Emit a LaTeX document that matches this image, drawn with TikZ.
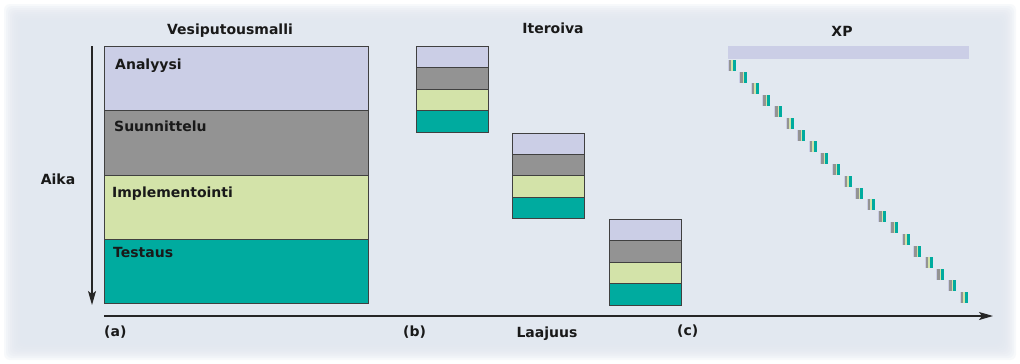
\documentclass[tikz,border=0pt]{standalone}
\usepackage{fontspec}
\setmainfont{DejaVu Sans}
\usetikzlibrary{arrows.meta}
\definecolor{bgc}{HTML}{E2E8F0}
\definecolor{lav}{HTML}{CBCEE6}
\definecolor{gry}{HTML}{939393}
\definecolor{lgr}{HTML}{D3E3A9}
\definecolor{tea}{HTML}{00AB9F}
\definecolor{edge}{HTML}{404040}
\tikzset{
  lbl/.style={inner sep=0pt, font=\fontsize{14}{16}\selectfont\bfseries, text=black!90},
  band/.style={draw=edge, line width=0.9pt, inner sep=0pt, anchor=north west},
  axisarrow/.style={draw=black!85, line width=1.2pt, -{Stealth[length=14pt,width=8pt,inset=3pt]}},
}
\begin{document}
\begin{tikzpicture}[x=1pt,y=-1pt]
\useasboundingbox (0,0) rectangle (1020,364);
% background
\fill[white] (0,0) rectangle (1020,364);
\foreach \i in {1,...,10} {
  \fill[bgc, opacity=0.25, rounded corners=6pt] (2*\i+2, 2*\i+2) rectangle (1018-2*\i, 362-2*\i);
}
% titles
\node[lbl, anchor=base] (t1) at (230,34) {Vesiputousmalli};
\node[lbl, anchor=base] (t2) at (553,33) {Iteroiva};
\node[lbl, anchor=base] (t3) at (842,36) {XP};
% waterfall
\node[band, fill=lav, minimum width=264pt, minimum height=64.25pt] (wa) at (104,46) {};
\node[band, fill=gry, minimum width=264pt, minimum height=64.25pt] (ws) at (104,110.25) {};
\node[band, fill=lgr, minimum width=264pt, minimum height=64.25pt] (wi) at (104,174.5) {};
\node[band, fill=tea, minimum width=264pt, minimum height=64.25pt] (wt) at (104,238.75) {};
\node[lbl, anchor=base west] (la) at (115,69) {Analyysi};
\node[lbl, anchor=base west] (ls) at (114,131) {Suunnittelu};
\node[lbl, anchor=base west] (li) at (112,197) {Implementointi};
\node[lbl, anchor=base west] (lt) at (113,257) {Testaus};
% time axis
\node[lbl, anchor=base] (aika) at (58,184) {Aika};
\coordinate (ta) at (92,46);
\coordinate (tb) at (92,305);
\draw[axisarrow] (ta) -- (tb);
% iterative boxes
\foreach \n/\x/\y in {1/416/46, 2/512/132.5, 3/608.5/219} {
  \node[band, fill=lav, minimum width=72pt, minimum height=21.4pt] (i\n a) at (\x,\y) {};
  \node[band, fill=gry, minimum width=72pt, minimum height=21.4pt] (i\n b) at (\x,\y+21.4) {};
  \node[band, fill=lgr, minimum width=72pt, minimum height=21.4pt] (i\n c) at (\x,\y+42.8) {};
  \node[band, fill=tea, minimum width=72pt, minimum height=21.4pt] (i\n d) at (\x,\y+64.2) {};
}
% XP
\fill[lav] (728,46) rectangle (969,59);
\foreach \k in {0,...,20} {
  \pgfmathsetmacro{\xx}{728.5+11.6*\k}
  \pgfmathsetmacro{\yy}{60+11.6*\k}
  \fill[lav] (\xx-1,\yy) rectangle (\xx,\yy+11);
  \fill[gry] (\xx,\yy) rectangle (\xx+2.6,\yy+11);
  \fill[lgr] (\xx+2.6,\yy) rectangle (\xx+4,\yy+11);
  \fill[tea] (\xx+4,\yy) rectangle (\xx+7,\yy+11);
}
% horizontal axis
\coordinate (xa) at (104,316);
\coordinate (xb) at (993,316);
\draw[axisarrow] (xa) -- (xb);
\node[lbl, anchor=base west] (pa) at (104,336) {(a)};
\node[lbl, anchor=base west] (pb) at (403,336) {(b)};
\node[lbl, anchor=base] (laaj) at (547,337) {Laajuus};
\node[lbl, anchor=base west] (pc) at (677,335) {(c)};
\end{tikzpicture}
\end{document}
